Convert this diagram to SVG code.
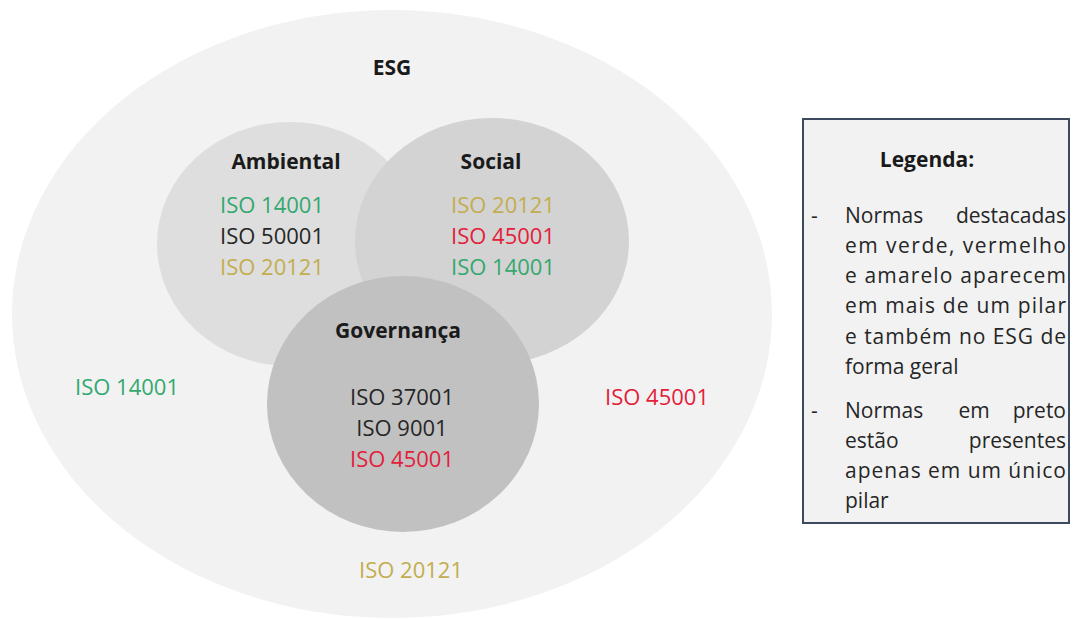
<svg xmlns="http://www.w3.org/2000/svg" width="1073" height="619" viewBox="0 0 1073 619">
<style>
text{font-family:"Open Sans","Noto Sans","Liberation Sans",sans-serif;fill:#262626}
.t{font-size:22px}
.b{font-size:21px;font-weight:bold;fill:#1a1a1a}
.c{text-anchor:middle}
.g{fill:#33a86f}
.r{fill:#e3203a}
.y{fill:#c3ad4f}
.l{font-size:21px}
</style>
<rect width="1073" height="619" fill="#ffffff"/>
<g id="esg">
<ellipse cx="392" cy="314" rx="380" ry="304" fill="#f2f2f2"/>
<text class="b c" x="392" y="75">ESG</text>
<text class="t g c" x="127" y="395">ISO 14001</text>
<text class="t r c" x="657" y="405">ISO 45001</text>
<text class="t y c" x="411" y="578">ISO 20121</text>
</g>
<g id="ambiental">
<ellipse cx="290" cy="244" rx="133" ry="122" fill="#dedede"/>
</g>
<g id="social">
<ellipse cx="492" cy="241" rx="137" ry="123" fill="#d3d3d3"/>
</g>
<g id="ambiental-text">
<text class="b c" x="286" y="169">Ambiental</text>
<text class="t g c" x="272" y="213">ISO 14001</text>
<text class="t c" x="272" y="244">ISO 50001</text>
<text class="t y c" x="272" y="275">ISO 20121</text>
</g>
<g id="social-text">
<text class="b c" x="491" y="169">Social</text>
<text class="t y c" x="503" y="213">ISO 20121</text>
<text class="t r c" x="503" y="244">ISO 45001</text>
<text class="t g c" x="503" y="275">ISO 14001</text>
</g>
<g id="governanca">
<ellipse cx="403" cy="404" rx="136" ry="128" fill="#c1c1c1"/>
<text class="b c" x="398" y="338">Governança</text>
<text class="t c" x="402" y="405">ISO 37001</text>
<text class="t c" x="402" y="436">ISO 9001</text>
<text class="t r c" x="402" y="467">ISO 45001</text>
</g>
<g id="legenda">
<rect x="803" y="119" width="266" height="404" fill="#f2f2f2" stroke="#3b4a5e" stroke-width="2"/>
<text class="l c" x="927" y="167" font-weight="bold" style="fill:#1a1a1a">Legenda:</text>
<text class="l" x="811" y="223">-</text>
<text class="l" x="845" y="223">Normas</text>
<text class="l" x="1066" y="223" text-anchor="end">destacadas</text>
<text class="l" x="845" y="253" textLength="221" lengthAdjust="spacing">em verde, vermelho</text>
<text class="l" x="845" y="283" textLength="221" lengthAdjust="spacing">e amarelo aparecem</text>
<text class="l" x="845" y="313" textLength="221" lengthAdjust="spacing">em mais de um pilar</text>
<text class="l" x="845" y="344" textLength="221" lengthAdjust="spacing">e também no ESG de</text>
<text class="l" x="845" y="374">forma geral</text>
<text class="l" x="811" y="418">-</text>
<text class="l" x="845" y="418">Normas</text>
<text class="l" x="974" y="418" text-anchor="middle">em</text>
<text class="l" x="1066" y="418" text-anchor="end">preto</text>
<text class="l" x="845" y="448">estão</text>
<text class="l" x="1066" y="448" text-anchor="end">presentes</text>
<text class="l" x="845" y="478" textLength="221" lengthAdjust="spacing">apenas em um único</text>
<text class="l" x="845" y="508">pilar</text>
</g>
<g id="connectors"></g>
</svg>
